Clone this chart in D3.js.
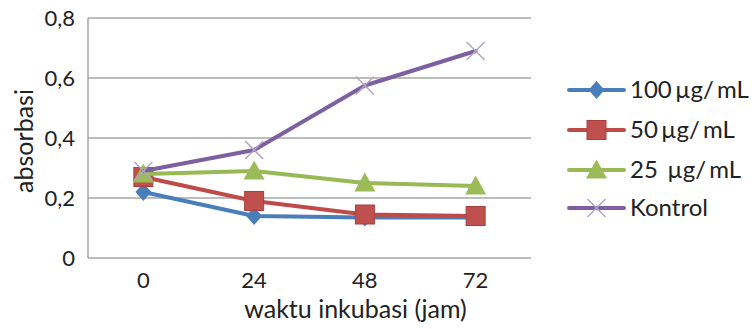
<!DOCTYPE html>
<html><head><meta charset="utf-8">
<script src="https://cdn.jsdelivr.net/npm/d3@7"></script>
<style>body{margin:0;background:#fff;overflow:hidden}svg{display:block}text{font-family:Lato,"Open Sans",sans-serif;fill:#222}.leg{white-space:pre;word-spacing:-3px}</style>
</head><body>
<svg id="c" width="752" height="329"></svg>
<script>
const categories = ["0","24","48","72"];
const yTicks = [0,0.2,0.4,0.6,0.8];
const seriesNames = ["100 \u00b5g/ mL","50 \u00b5g/ mL","25   \u00b5g/ mL","Kontrol"];
const s100 = [0.22,0.14,0.135,0.135];
const s50 = [0.27,0.19,0.145,0.14];
const s25 = [0.28,0.29,0.25,0.24];
const kontrol = [0.29,0.36,0.575,0.69];
const colors = ["#4A7EBB","#BE4B48","#98B954","#7D60A0"];
const markerColors = ["#4A7EBB","#C0504D","#9BBB59","#B3A2C7"];
const shapes = ["diamond","square","triangle","x"];
const values = [s100,s50,s25,kontrol];

const svg = d3.select("#c");
const L=88,R=531,T=18,B=258;
const x = d3.scaleBand().domain(categories).range([L,R]);
const y = d3.scaleLinear().domain([0,0.8]).range([B,T]);

// gridlines
svg.append("g").selectAll("line").data(yTicks).join("line")
  .attr("x1",L).attr("x2",R).attr("y1",d=>y(d)).attr("y2",d=>y(d))
  .attr("stroke","#A6A6A6").attr("stroke-width",1.5);
svg.append("line").attr("x1",L).attr("x2",L).attr("y1",T).attr("y2",B)
  .attr("stroke","#A6A6A6").attr("stroke-width",1.5);

const yAxis = d3.axisLeft(y).tickValues(yTicks).tickSize(0).tickPadding(13)
  .tickFormat(d=> d===0 ? "0" : d3.format(".1f")(d).replace(".",","));
const gy = svg.append("g").attr("transform",`translate(${L},0)`).call(yAxis);
gy.select(".domain").remove();
gy.selectAll("text").attr("font-size",22).attr("fill","#222").style("font-family","Lato,sans-serif");

const xAxis = d3.axisBottom(x).tickSize(0).tickPadding(14);
const gx = svg.append("g").attr("transform",`translate(0,${B})`).call(xAxis);
gx.select(".domain").remove();
gx.selectAll("text").attr("font-size",22).attr("fill","#222").style("font-family","Lato,sans-serif");

svg.append("text").attr("x",355.5).attr("y",318).attr("text-anchor","middle").attr("font-size",25).text("waktu inkubasi (jam)");
svg.append("text").attr("transform","translate(33,141) rotate(-90)").attr("text-anchor","middle").attr("font-size",25).text("absorbasi");

function marker(g, shape, cx, cy, col){
  if(shape==="diamond"){
    const rx=8, ry=9;
    g.append("path").attr("d",`M${cx},${cy-ry}L${cx+rx},${cy}L${cx},${cy+ry}L${cx-rx},${cy}Z`).attr("fill",col);
  } else if(shape==="square"){
    const h=9.5;
    g.append("rect").attr("x",cx-h).attr("y",cy-h).attr("width",2*h).attr("height",2*h).attr("fill",col).attr("stroke","#A8403D").attr("stroke-width",1);
  } else if(shape==="triangle"){
    const h=10;
    g.append("path").attr("d",`M${cx},${cy-h*1.05}L${cx+h*1.05},${cy+h*0.85}L${cx-h*1.05},${cy+h*0.85}Z`).attr("fill",col);
  } else {
    const h=9;
    g.append("path").attr("d",`M${cx-h},${cy-h}L${cx+h},${cy+h}M${cx-h},${cy+h}L${cx+h},${cy-h}`).attr("stroke",col).attr("stroke-width",1.5).attr("fill","none");
  }
}

const line = d3.line().x((d,i)=>x(categories[i])+x.bandwidth()/2).y(d=>y(d));
values.forEach((vals,si)=>{
  const g = svg.append("g");
  g.append("path").datum(vals).attr("d",line).attr("fill","none")
    .attr("stroke",colors[si]).attr("stroke-width",4).attr("stroke-linejoin","round").attr("stroke-linecap","round");
  vals.forEach((v,i)=>marker(g,shapes[si],x(categories[i])+x.bandwidth()/2,y(v),markerColors[si]));
});

// legend
const legY = [90,130,170,208];
seriesNames.forEach((n,i)=>{
  const g = svg.append("g");
  g.append("line").attr("x1",569).attr("x2",624).attr("y1",legY[i]).attr("y2",legY[i])
    .attr("stroke",colors[i]).attr("stroke-width",4).attr("stroke-linecap","round");
  marker(g,shapes[i],596.5,legY[i],markerColors[i]);
  g.append("text").attr("class","leg").attr("x",630).attr("y",legY[i]).attr("dy","0.35em").attr("font-size",24).text(n);
});
</script>
</body></html>
